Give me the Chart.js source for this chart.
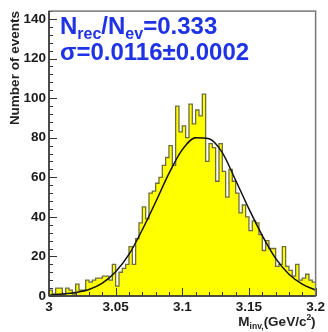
<!DOCTYPE html>
<html><head><meta charset="utf-8">
<script src="https://cdn.jsdelivr.net/npm/chart.js@4.4.1/dist/chart.umd.min.js"></script>
<style>html,body{margin:0;padding:0;background:#fff;} #wrap{width:328px;height:332px;}</style>
</head><body><div id="wrap"><canvas id="c" width="328" height="332"></canvas></div>
<script>
// ---- data ----
const binStart = 3.0;
const binWidth = 0.0025;
const counts = [
  3, 1, 4, 4, 1, 4, 3, 1, 6, 3,
  3, 8, 7, 8, 9, 9, 10, 10, 8, 16,
  5, 12, 14, 16, 25, 16, 29, 37, 45, 39,
  52, 53, 57, 60, 66, 70, 76, 66, 96, 83,
  86, 80, 97, 87, 94, 91, 102, 68, 77, 75,
  58, 77, 63, 50, 64, 58, 52, 42, 46, 40,
  33, 38, 37, 31, 23, 28, 24, 24, 15, 16,
  25, 15, 13, 10, 16, 8, 9, 11, 8, 7
];
const fitX = [3.00, 3.01, 3.02, 3.03, 3.04, 3.05, 3.06, 3.07, 3.08, 3.09, 3.10,
              3.11, 3.12, 3.13, 3.14, 3.15, 3.16, 3.17, 3.18, 3.19, 3.20];
const fitY = [0.5, 1, 1.8, 3.3, 6.5, 12.3, 21, 33.5, 47.5, 62, 74,
              80, 79.5, 72.5, 58.5, 44, 30.5, 19, 11, 6, 3];
const xTicks = [3, 3.05, 3.1, 3.15, 3.2];
const xTickLabels = ['3', '3.05', '3.1', '3.15', '3.2'];
const yTicks = [0, 20, 40, 60, 80, 100, 120, 140];
const yTickLabels = ['0', '20', '40', '60', '80', '100', '120', '140'];
const ratioValue = '0.333';
const sigmaText = 'σ=0.0116±0.0002';
const yTitle = 'Number of events';

const histPoints = counts.map((c, i) => ({x: binStart + i * binWidth, y: c}));
histPoints.push({x: binStart + counts.length * binWidth, y: counts[counts.length - 1]});
const fitPoints = fitX.map((x, i) => ({x: x, y: fitY[i]}));

const FONT = '"Liberation Sans", Arial, Helvetica, sans-serif';

function seg(ctx, x1, y1, x2, y2) { ctx.beginPath(); ctx.moveTo(x1, y1); ctx.lineTo(x2, y2); ctx.stroke(); }

const framePlugin = {
  id: 'frame',
  afterDatasetsDraw(chart) {
    const {ctx, chartArea: a, scales: {x, y}} = chart;
    ctx.save();
    ctx.strokeStyle = '#333';
    ctx.lineWidth = 1;
    // y ticks (inside)
    for (let v = 0; v <= 144; v += 4) {
      const py = Math.round(y.getPixelForValue(v)) + 0.5;
      const len = (v % 20 === 0) ? 8 : 4;
      seg(ctx, a.left, py, a.left + len, py);
    }
    // x ticks (inside)
    for (let k = 0; k <= 20; k++) {
      const px = Math.round(x.getPixelForValue(3 + k * 0.01)) + 0.5;
      const len = (k % 5 === 0) ? 8 : 4;
      seg(ctx, px, a.bottom, px, a.bottom - len);
    }
    // frame
    ctx.strokeStyle = '#777';
    ctx.lineWidth = 1.5;
    ctx.strokeRect(a.left, a.top, a.right - a.left, a.bottom - a.top);
    ctx.strokeStyle = '#333';
    ctx.lineWidth = 1.5;
    seg(ctx, a.left, a.top, a.left, a.bottom);
    seg(ctx, a.left, a.bottom, a.right, a.bottom);
    ctx.restore();
  },
  afterDraw(chart) {
    const {ctx, chartArea: a} = chart;
    ctx.save();
    ctx.textAlign = 'left';
    ctx.textBaseline = 'alphabetic';
    // blue annotation
    ctx.fillStyle = '#1e32e6';
    const big = 'bold 24px ' + FONT, small = 'bold 16px ' + FONT;
    let cx = a.left + 11, by = a.top + 23;
    const parts = [['N', big, 0], ['rec', small, 5], ['/N', big, 0], ['ev', small, 5], ['=' + ratioValue, big, 0]];
    for (const [t, f, dy] of parts) { ctx.font = f; ctx.fillText(t, cx, by + dy); cx += ctx.measureText(t).width; }
    ctx.font = big;
    ctx.fillText(sigmaText, a.left + 11, a.top + 49);
    // x axis title
    ctx.fillStyle = '#222';
    const xb = 'bold 13.5px ' + FONT, xs = 'bold 8.5px ' + FONT;
    const xparts = [['M', xb, 0], ['inv,', xs, 3], ['(GeV/c', xb, 0], ['2', xs, -6], [')', xb, 0]];
    let tw = 0;
    for (const [t, f] of xparts) { ctx.font = f; tw += ctx.measureText(t).width; }
    cx = a.right - tw;
    const xby = 326;
    for (const [t, f, dy] of xparts) { ctx.font = f; ctx.fillText(t, cx, xby + dy); cx += ctx.measureText(t).width; }
    ctx.restore();
  }
};

new Chart(document.getElementById('c').getContext('2d'), {
  type: 'line',
  data: {
    datasets: [
      {label: 'fit', data: fitPoints, borderColor: '#111', borderWidth: 1.5, pointRadius: 0,
       fill: false, cubicInterpolationMode: 'monotone', order: 0},
      {label: 'hist', data: histPoints, stepped: 'before', borderColor: '#6e6e3c', borderWidth: 1.3,
       backgroundColor: '#ffff00', fill: 'origin', pointRadius: 0, order: 1}
    ]
  },
  options: {
    responsive: false, animation: false, devicePixelRatio: 1,
    layout: {padding: {left: 0, right: 6, top: 4, bottom: 0}},
    plugins: {legend: {display: false}, tooltip: {enabled: false}},
    scales: {
      x: {
        type: 'linear', min: 3, max: 3.2,
        afterBuildTicks: s => { s.ticks = xTicks.map(v => ({value: v})); },
        afterFit: s => { s.height = 36; },
        ticks: {callback: (v, i) => xTickLabels[i], color: '#1a1a1a', maxRotation: 0, padding: 3,
                font: {family: FONT, weight: 'bold', size: 13.5}},
        grid: {display: false, drawTicks: false}, border: {display: false}
      },
      y: {
        type: 'linear', min: 0, max: 144,
        afterBuildTicks: s => { s.ticks = yTicks.map(v => ({value: v})); },
        afterFit: s => { s.width = 49; },
        ticks: {callback: (v, i) => yTickLabels[i], color: '#1a1a1a', padding: 3,
                font: {family: FONT, weight: 'bold', size: 13.5}},
        grid: {display: false, drawTicks: false}, border: {display: false},
        title: {display: true, text: yTitle, align: 'end', color: '#222',
                font: {family: FONT, weight: 'bold', size: 13.5}, padding: {top: 7, bottom: 0}}
      }
    }
  },
  plugins: [framePlugin]
});
</script>
</body></html>
